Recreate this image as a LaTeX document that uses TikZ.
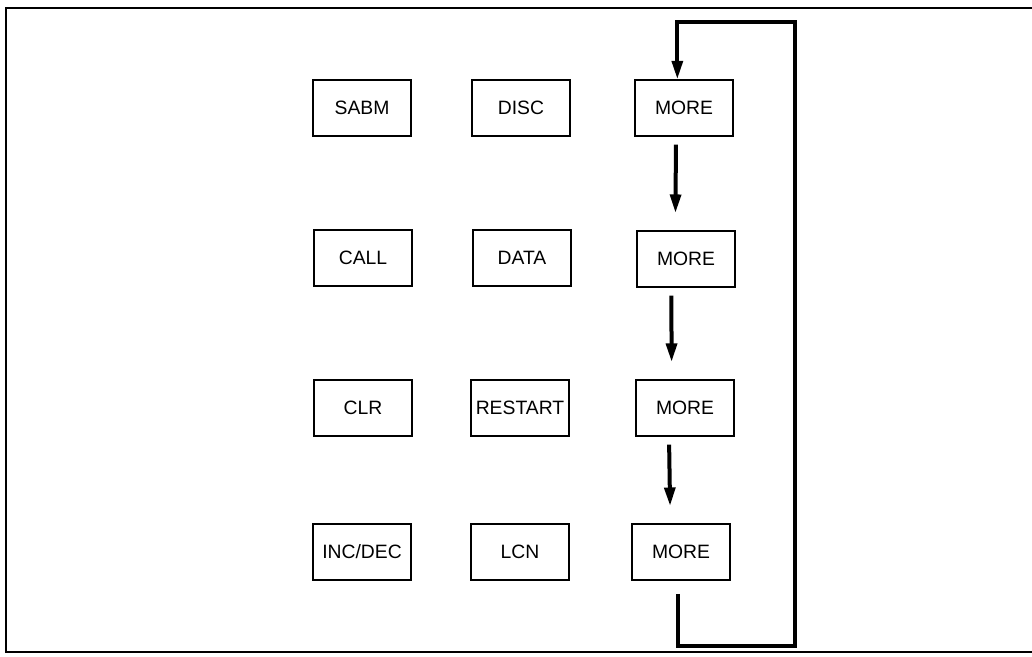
\documentclass[tikz,border=0pt]{standalone}
\usepackage{fontspec}
\setmainfont{Liberation Sans}
\usetikzlibrary{arrows.meta}
\begin{document}
\begin{tikzpicture}[x=0.75pt, y=-0.75pt,
    softkey/.style={draw, line width=0.8pt, minimum width=73.5pt, minimum height=42pt, inner sep=0pt, font=\fontsize{14.5}{16}\selectfont},
    nextkey/.style={line width=3pt, -{Triangle[length=14pt, width=8pt]}, shorten <=6pt, shorten >=13pt},
    loopline/.style={line width=3pt, -{Triangle[length=14pt, width=8pt]}}]
    \useasboundingbox (0,0) rectangle (1032,657);

    % Moldura
    \draw[line width=2pt] (1032,8) -- (6,8) -- (6,652);
    \draw[line width=1.3pt] (5,652) -- (1032,652);

    % Teclas
    \node[softkey] (sabm) at (362,108) {SABM};
    \node[softkey] (disc) at (521,108) {DISC};
    \node[softkey] (more1) at (684,108) {MORE};

    \node[softkey] (call) at (363,258) {CALL};
    \node[softkey] (data) at (522,258) {DATA};
    \node[softkey] (more2) at (686,259) {MORE};

    \node[softkey] (clr) at (363,408) {CLR};
    \node[softkey] (restart) at (520,408) {RESTART};
    \node[softkey] (more3) at (685,408) {MORE};

    \node[softkey] (incdec) at (362,552) {INC/DEC};
    \node[softkey] (lcn) at (520,552) {LCN};
    \node[softkey] (more4) at (681,552) {MORE};

    % Sequencia de MORE
    \draw[nextkey] ([xshift=-6]more1.south) -- ([xshift=-8]more2.north);
    \draw[nextkey] ([xshift=-11]more2.south) -- ([xshift=-10]more3.north);
    \draw[nextkey] ([xshift=-12]more3.south) -- ([xshift=-8]more4.north);

    % Retorno
    \coordinate (loopbr) at (795,646);
    \coordinate (looptr) at (795,22);
    \draw[loopline] ([xshift=-2, yshift=-10]more4.south) |- (loopbr) -- (looptr) -| ([xshift=-5]more1.north);
\end{tikzpicture}
\end{document}
